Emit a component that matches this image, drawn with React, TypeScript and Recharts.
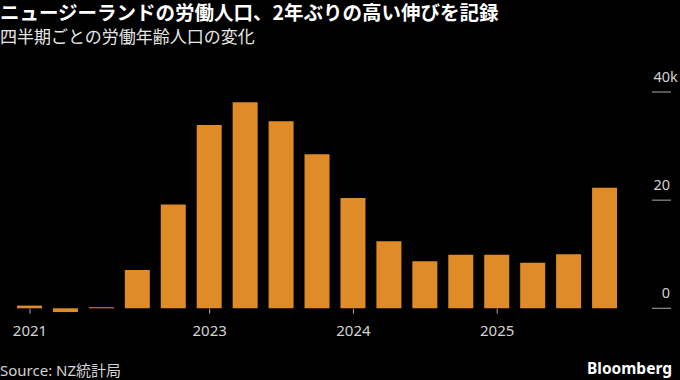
import { BarChart, Bar, XAxis, YAxis } from 'recharts'

const periods = [
  '2021Q4', '2022Q1', '2022Q2', '2022Q3', '2022Q4',
  '2023Q1', '2023Q2', '2023Q3', '2023Q4',
  '2024Q1', '2024Q2', '2024Q3', '2024Q4',
  '2025Q1', '2025Q2', '2025Q3', '2025Q4',
]

// change in working-age population, thousands
const changes = [0.5, -0.7, 0.2, 7.1, 19.2, 33.9, 38.1, 34.6, 28.5, 20.4, 12.4, 8.7, 9.9, 9.9, 8.4, 10.0, 22.3]

const xTickPeriods = ['2021Q4', '2023Q1', '2024Q1', '2025Q1']
const xTickLabels = ['2021', '2023', '2024', '2025']
const yTicks = [0, 20, 40]

const BAR_COLOR = '#DF8B28'
const FONT = '"Noto Sans", "Noto Sans CJK JP", sans-serif'

const chartData = periods.map((period, i) => ({ period, value: changes[i] }))

const XTick = ({ x, y, payload }: any) => {
  const idx = xTickPeriods.indexOf(payload.value)
  return (
    <g>
      <line x1={x} x2={x} y1={y - 5} y2={y} stroke="#aaa" strokeWidth={1} />
      <text x={x} y={y + 22} textAnchor="middle" fill="#d4d4d4" fontSize={15} fontFamily={FONT}>
        {idx >= 0 ? xTickLabels[idx] : ''}
      </text>
    </g>
  )
}

const YTick = ({ y, payload }: any) => {
  const right = 670
  return (
    <g>
      <line x1={652} x2={671} y1={y} y2={y} stroke="#aaa" strokeWidth={1} />
      <text x={right} y={y - 10} textAnchor="end" fill="#d4d4d4" fontSize={14.5} fontFamily={FONT}>
        {payload.value}
      </text>
      {payload.value === 40 && (
        <text x={right} y={y - 10} fill="#d4d4d4" fontSize={14.5} fontFamily={FONT}>
          k
        </text>
      )}
    </g>
  )
}

export default function App() {
  return (
    <div style={{ position: 'relative', width: 680, height: 380, background: '#000', overflow: 'hidden' }}>
      <style>{'body{margin:0;background:#000}'}</style>
      <div
        style={{
          position: 'absolute', left: 0, top: 1, color: '#fff', fontWeight: 'bold',
          fontSize: 19.5, lineHeight: '22px', fontFamily: '"Noto Sans CJK JP", sans-serif', whiteSpace: 'nowrap',
        }}
      >
        ニュージーランドの労働人口、2年ぶりの高い伸びを記録
      </div>
      <div
        style={{
          position: 'absolute', left: 0, top: 25, color: '#e6e6e6',
          fontSize: 17, lineHeight: '22px', fontFamily: '"Noto Sans CJK JP", sans-serif', whiteSpace: 'nowrap',
        }}
      >
        四半期ごとの労働年齢人口の変化
      </div>
      <div style={{ position: 'absolute', left: 0, top: 0 }}>
        <BarChart width={680} height={380} data={chartData} margin={{ top: 92, right: 0, left: 12, bottom: 36.3 }}>
          <XAxis
            dataKey="period"
            ticks={xTickPeriods}
            interval={0}
            axisLine={false}
            tickLine={false}
            tickSize={0}
            tickMargin={0}
            height={30}
            tick={<XTick />}
          />
          <YAxis
            orientation="right"
            domain={[-1, 40]}
            ticks={yTicks}
            axisLine={false}
            tickLine={false}
            width={57}
            tick={<YTick />}
          />
          <Bar dataKey="value" fill={BAR_COLOR} barSize={25} isAnimationActive={false} />
        </BarChart>
      </div>
      <div
        style={{
          position: 'absolute', left: 0, top: 360, color: '#d4d4d4',
          fontSize: 15, lineHeight: '20px', fontFamily: FONT, whiteSpace: 'nowrap',
        }}
      >
        Source: NZ統計局
      </div>
      <div
        style={{
          position: 'absolute', right: 8, top: 358, color: '#fff', fontWeight: 'bold',
          fontSize: 15.5, lineHeight: '20px', fontFamily: FONT, whiteSpace: 'nowrap',
        }}
      >
        Bloomberg
      </div>
    </div>
  )
}
